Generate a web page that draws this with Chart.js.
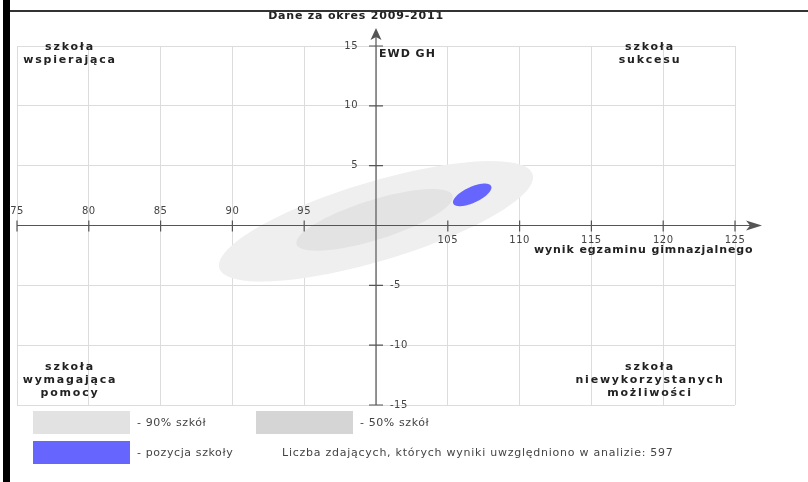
<!DOCTYPE html>
<html>
<head>
<meta charset="utf-8">
<script src="https://cdn.jsdelivr.net/npm/chart.js@4.4.0/dist/chart.umd.min.js"></script>
<style>
html, body { margin: 0; padding: 0; background: #fff; }
#wrap { position: relative; width: 808px; height: 482px; overflow: hidden; }
#bar { position: absolute; left: 3px; top: 0; width: 7px; height: 482px; background: #000; }
#rule { position: absolute; left: 10px; top: 10px; width: 798px; height: 2px; background: #333; }
</style>
</head>
<body>
<div id="wrap">
  <canvas id="ewdChart" width="808" height="482"></canvas>
  <div id="bar"></div>
  <div id="rule"></div>
</div>
<script>
// axis ticks
var xTicks = [75, 80, 85, 90, 95, 100, 105, 110, 115, 120, 125];
var yTicks = [-15, -10, -5, 0, 5, 10, 15];

// ellipses: centre + two semi-axis vectors, in data units (wynik, EWD)
var ellipseNames = ['90% szkół', '50% szkół', 'pozycja szkoły'];
var centreX = [100.0, 99.9, 106.7];
var centreY = [0.35, 0.47, 2.56];
var axisAX = [10.91, 5.43, 1.32];
var axisAY = [3.92, 2.04, 0.73];
var axisBX = [0.80, 0.42, 0.235];
var axisBY = [-3.16, -1.58, -0.60];
var ellipseColors = ['#efefef', '#e3e3e3', '#6666ff'];
var legendColors = ['#e2e2e2', '#d5d5d5', '#6666ff'];

var quadrantTop = [['szkoła', 'wspierająca'], ['szkoła', 'sukcesu']];
var quadrantBottom = [['szkoła', 'wymagająca', 'pomocy'], ['szkoła', 'niewykorzystanych', 'możliwości']];
var studentCount = 597;

var ewdPlugin = {
  id: 'ewd',
  afterDraw: function(chart) {
    var c = chart.ctx, xs = chart.scales.x, ys = chart.scales.y, a = chart.chartArea;
    var x0 = xs.getPixelForValue(100), y0 = ys.getPixelForValue(0);
    c.save();

    // ellipses
    for (var k = 0; k < centreX.length; k++) {
      c.beginPath();
      for (var i = 0; i <= 90; i++) {
        var t = i / 90 * Math.PI * 2;
        var dx = centreX[k] + axisAX[k] * Math.cos(t) + axisBX[k] * Math.sin(t);
        var dy = centreY[k] + axisAY[k] * Math.cos(t) + axisBY[k] * Math.sin(t);
        var px = xs.getPixelForValue(dx), py = ys.getPixelForValue(dy);
        if (i == 0) c.moveTo(px, py); else c.lineTo(px, py);
      }
      c.closePath();
      c.fillStyle = ellipseColors[k];
      c.fill();
    }

    // axes
    c.strokeStyle = '#555';
    c.fillStyle = '#555';
    c.lineWidth = 1.2;
    c.beginPath();
    c.moveTo(a.left, y0); c.lineTo(a.right + 16, y0);
    c.moveTo(x0, a.bottom); c.lineTo(x0, a.top - 10);
    xTicks.forEach(function(v) {
      if (v == 100) return;
      var p = xs.getPixelForValue(v);
      c.moveTo(p, y0 - 5); c.lineTo(p, y0 + 6);
    });
    yTicks.forEach(function(v) {
      if (v == 0) return;
      var p = ys.getPixelForValue(v);
      c.moveTo(x0 - 7, p); c.lineTo(x0 + 7, p);
    });
    c.stroke();
    c.beginPath();
    c.moveTo(a.right + 27, y0); c.lineTo(a.right + 11, y0 - 5); c.lineTo(a.right + 15, y0); c.lineTo(a.right + 11, y0 + 5);
    c.closePath(); c.fill();
    c.beginPath();
    c.moveTo(x0, a.top - 18); c.lineTo(x0 - 5.5, a.top - 6); c.lineTo(x0, a.top - 9); c.lineTo(x0 + 5.5, a.top - 6);
    c.closePath(); c.fill();

    // tick labels
    c.font = '10px "DejaVu Sans"';
    c.letterSpacing = '0.5px';
    c.fillStyle = '#444';
    c.textBaseline = 'middle';
    c.textAlign = 'center';
    xTicks.forEach(function(v) {
      if (v == 100) return;
      var p = xs.getPixelForValue(v);
      c.fillText(String(v), p, v < 100 ? y0 - 14 : y0 + 15);
    });
    yTicks.forEach(function(v) {
      if (v == 0) return;
      var p = ys.getPixelForValue(v);
      if (v > 0) { c.textAlign = 'right'; c.fillText(String(v), x0 - 18, p); }
      else { c.textAlign = 'left'; c.fillText(String(v), x0 + 14, p); }
    });

    // titles
    c.fillStyle = '#222';
    c.font = 'bold 11px "DejaVu Sans"';
    c.letterSpacing = '0.8px';
    c.textAlign = 'center';
    c.fillText('Dane za okres 2009-2011', 356, 16);
    c.textAlign = 'left';
    c.letterSpacing = '1px';
    c.fillText('EWD GH', x0 + 3, ys.getPixelForValue(15) + 8);
    c.letterSpacing = '0.9px';
    c.fillText('wynik egzaminu gimnazjalnego', xs.getPixelForValue(111), y0 + 25);

    // quadrant labels
    c.textAlign = 'center';
    c.letterSpacing = '1.8px';
    var qx = [70, 650];
    quadrantTop.forEach(function(lines, j) {
      lines.forEach(function(s, n) { c.fillText(s, qx[j], a.top + 1 + n * 13); });
    });
    quadrantBottom.forEach(function(lines, j) {
      lines.forEach(function(s, n) { c.fillText(s, qx[j], a.bottom - 38 + n * 13); });
    });

    // legend
    var boxes = [[33, 411], [256, 411], [33, 441]];
    c.font = '11px "DejaVu Sans"';
    c.letterSpacing = '0.6px';
    c.textAlign = 'left';
    for (var m = 0; m < boxes.length; m++) {
      c.fillStyle = legendColors[m];
      c.fillRect(boxes[m][0], boxes[m][1], 97, 23);
      c.fillStyle = '#444';
      c.fillText('- ' + ellipseNames[m], boxes[m][0] + 104, boxes[m][1] + 12);
    }
    c.letterSpacing = '0.75px';
    c.fillText('Liczba zdających, których wyniki uwzględniono w analizie: ' + studentCount, 282, 453);
    c.restore();
  }
};

new Chart(document.getElementById('ewdChart'), {
  type: 'scatter',
  data: { datasets: [] },
  options: {
    responsive: false,
    animation: false,
    layout: { padding: { left: 17, right: 73, top: 46, bottom: 77 } },
    plugins: { legend: { display: false }, tooltip: { enabled: false } },
    scales: {
      x: {
        type: 'linear', min: xTicks[0], max: xTicks[xTicks.length - 1],
        afterBuildTicks: function(s) { s.ticks = xTicks.map(function(v) { return { value: v }; }); },
        ticks: { display: false },
        grid: { color: '#dcdcdc', drawTicks: false },
        border: { display: false }
      },
      y: {
        type: 'linear', min: yTicks[0], max: yTicks[yTicks.length - 1],
        afterBuildTicks: function(s) { s.ticks = yTicks.map(function(v) { return { value: v }; }); },
        ticks: { display: false },
        grid: { color: '#dcdcdc', drawTicks: false },
        border: { display: false }
      }
    }
  },
  plugins: [ewdPlugin]
});
</script>
</body>
</html>
